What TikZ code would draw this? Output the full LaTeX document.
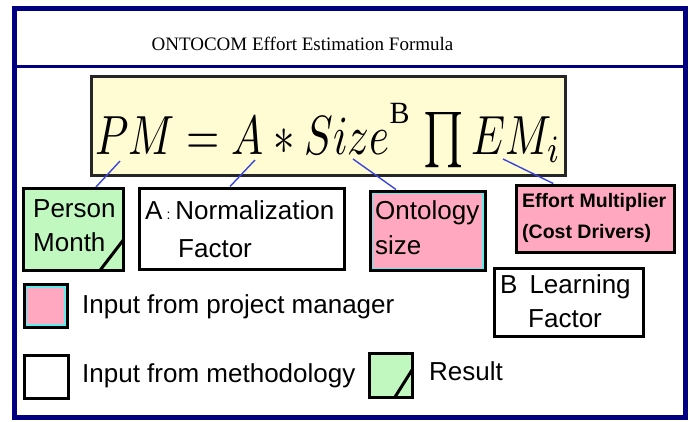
\documentclass[tikz,border=0pt]{standalone}
\usepackage[no-math]{fontspec}
\setmainfont{Liberation Sans}
\newfontfamily\titlefont{Liberation Serif}
\usepackage{graphicx}
\usetikzlibrary{positioning}

\definecolor{framenavy}{RGB}{0,0,128}
\definecolor{eqcream}{RGB}{255,252,212}
\definecolor{resgreen}{RGB}{192,248,192}
\definecolor{pmpink}{RGB}{255,168,192}
\definecolor{pmcyan}{RGB}{96,236,236}
\definecolor{linkblue}{RGB}{58,70,218}

\begin{document}
\begin{tikzpicture}[x=1pt,y=-1pt,
    frame/.style={draw=framenavy,line width=5pt},
    box/.style 2 args={draw,line width=3pt,minimum width=#1,minimum height=#2,inner sep=0pt},
    method/.style 2 args={box={#1}{#2},fill=white},
    driver/.style 2 args={box={#1}{#2},fill=pmpink},
    manager/.style 2 args={driver={#1}{#2},
      path picture={\draw[pmcyan,line width=6pt] (path picture bounding box.south west) rectangle (path picture bounding box.north east);}},
    result/.style n args={4}{box={#1}{#2},fill=resgreen,
      path picture={\draw[line width=3pt] ([xshift=-#3]path picture bounding box.south east) -- ([yshift=#4]path picture bounding box.south east);}},
    lbl/.style={anchor=base west,inner sep=0pt,align=left,font=\fontsize{26}{34}\selectfont},
    link/.style={draw=linkblue,line width=1.4pt}]
    \useasboundingbox (0,0) rectangle (691,421);

    \draw[frame] (14.5,8.5) rectangle (685,417.5);
    \draw[framenavy,line width=3pt] (14.5,66.5) -- (685,66.5);
    \node[anchor=base,inner sep=0pt,font=\titlefont\fontsize{19}{19}\selectfont] (title) at (302.5,50) {ONTOCOM Effort Estimation Formula};

    \node[box={474pt}{98.5pt},fill=eqcream,draw=black!85] (eq) at (328,125.75) {};
    \node[anchor=base west,inner sep=0pt] (eqtext) at (95,154)
      {\scalebox{4.28}[5.52]{$PM = A * Size\mbox{\raisebox{5.6pt}{\scalebox{1.25}[1]{\titlefont\fontsize{5.6}{5.6}\selectfont B}}}\,\prod EM_i$}};

    \node[result={99.8pt}{81.5pt}{23pt}{30pt}] (pm) at (73.4,229.25) {};
    \node[method={204.5pt}{81pt}] (norm) at (241.75,228.5) {};
    \node[manager={115pt}{79.5pt}] (size) at (427.5,230.75) {};
    \node[driver={158.5pt}{67pt}] (em) at (595.25,218.5) {};
    \node[method={149pt}{68pt}] (learn) at (568.5,302) {};

    \node[lbl] (pmtext) at (33,251) {Person\\Month};
    \node[lbl] (normtext) at (145,257) {A\hspace{4pt}{\fontsize{14}{14}\selectfont:}\hspace{5pt}Normalization\\[4pt]\hspace*{33pt}Factor};
    \node[lbl] (sizetext) at (375,254) {Ontology\\[1pt]size};
    \node[lbl,font=\bfseries\fontsize{19.5}{31}\selectfont] (emtext) at (522,238) {Effort Multiplier\\(Cost Drivers)};
    \node[lbl] (learntext) at (500,327) {B\hspace{12pt}Learning\\\hspace*{28pt}Factor};

    \node[manager={43pt}{42.5pt}] (legpm) at (45.5,305.75) {};
    \node[method={43.8pt}{43pt}] (legmeth) at (46.4,376.8) {};
    \node[result={42.5pt}{44pt}{17pt}{27pt}] (legres) at (390.75,375) {};
    \node[lbl] (legpmtext) at (82,313) {Input from project manager};
    \node[lbl] (legmethtext) at (82,382) {Input from methodology};
    \node[lbl] (legrestext) at (429,380) {Result};

    \coordinate (pmtip) at (120,161);
    \coordinate (atip) at (255,160);
    \coordinate (sizetip) at (353,159);
    \coordinate (emtip) at (503,159);

    \path[link]
    (pmtip) edge ([xshift=22.6pt]pm.north)
    (atip) edge ([xshift=-11.75pt]norm.north)
    (sizetip) edge ([xshift=-31.5pt]size.north)
    (emtip) edge ([xshift=-42pt]em.north);
\end{tikzpicture}
\end{document}
